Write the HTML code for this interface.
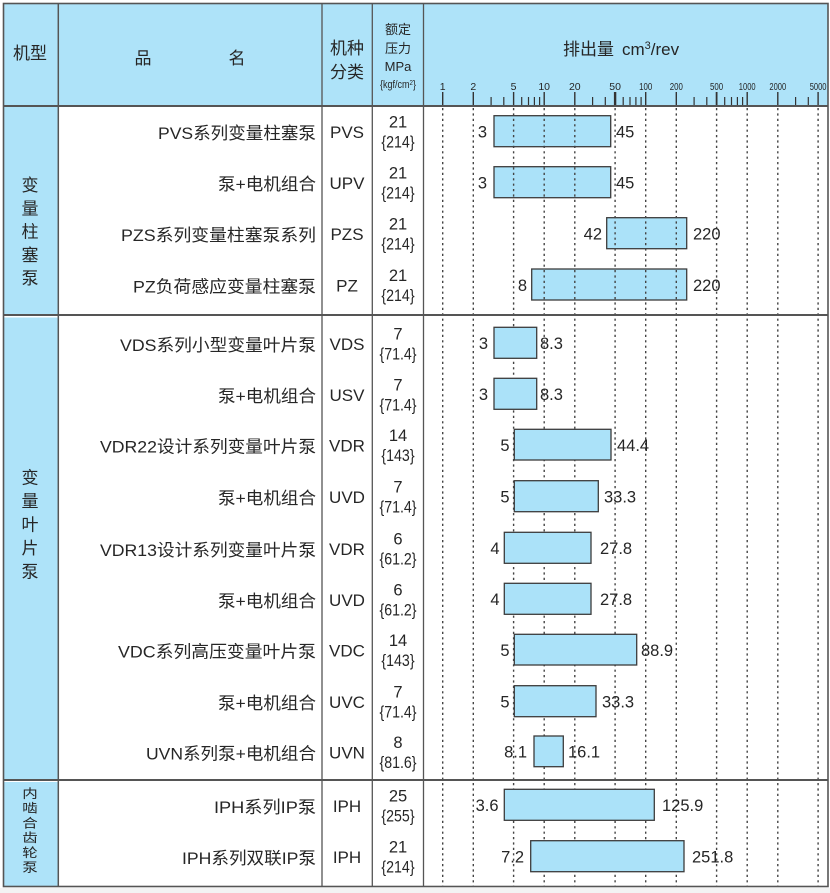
<!DOCTYPE html>
<html><head><meta charset="utf-8"><style>
html,body{margin:0;padding:0;background:#fff;}
svg{display:block;}
text{font-family:"Liberation Sans","Noto Sans CJK SC",sans-serif;fill:#262626;}
</style></head><body>
<svg width="830" height="893" viewBox="0 0 830 893" xmlns="http://www.w3.org/2000/svg">
<rect x="0" y="0" width="830" height="893" fill="#fff"/>
<rect x="0" y="888" width="830" height="5" fill="#f3f3f3"/>
<!-- header fill -->
<rect x="3" y="3" width="825" height="103" fill="#aee3f9"/>
<!-- left column fills -->
<rect x="4" y="107" width="54" height="207" fill="#aee3f9"/>
<rect x="4" y="317.5" width="54" height="461.5" fill="#aee3f9"/>
<rect x="4" y="782" width="54" height="104" fill="#aee3f9"/>

<!-- section 1 bars (gridlines drawn over) -->
<g fill="#abe2f9" stroke="#3c3c3c" stroke-width="1.3">
<rect x="494" y="115.7" width="116.7" height="31"/>
<rect x="494" y="166.7" width="116.7" height="31"/>
<rect x="606.7" y="217.7" width="80" height="31"/>
<rect x="531.7" y="269" width="155" height="31"/>
</g>

<!-- gridlines -->
<g stroke="#444" stroke-width="1.4" stroke-dasharray="2.2 3.2">
<line x1="442.7" y1="108" x2="442.7" y2="886"/>
<line x1="473.3" y1="108" x2="473.3" y2="886"/>
<line x1="513.6" y1="108" x2="513.6" y2="886"/>
<line x1="544.2" y1="108" x2="544.2" y2="886"/>
<line x1="574.8" y1="108" x2="574.8" y2="886"/>
<line x1="615.1" y1="108" x2="615.1" y2="886"/>
<line x1="645.7" y1="108" x2="645.7" y2="886"/>
<line x1="676.3" y1="108" x2="676.3" y2="886"/>
<line x1="716.6" y1="108" x2="716.6" y2="886"/>
<line x1="747.2" y1="108" x2="747.2" y2="886"/>
<line x1="777.8" y1="108" x2="777.8" y2="886"/>
<line x1="818.1" y1="108" x2="818.1" y2="886"/>
</g>

<!-- section 2 & 3 bars -->
<g fill="#abe2f9" stroke="#3c3c3c" stroke-width="1.3">
<rect x="494" y="327.3" width="42.7" height="31"/>
<rect x="494" y="378.3" width="42.7" height="31"/>
<rect x="514.3" y="429.3" width="96.7" height="30.7"/>
<rect x="514.3" y="480.7" width="84" height="31"/>
<rect x="504.3" y="532.3" width="86.7" height="31"/>
<rect x="504.3" y="583.3" width="86.7" height="31"/>
<rect x="514.3" y="634.3" width="122.4" height="30.7"/>
<rect x="514.3" y="685.7" width="81.7" height="31"/>
<rect x="534" y="736" width="29.3" height="30.7"/>
<rect x="504.3" y="789.3" width="150" height="31"/>
<rect x="530.7" y="840.7" width="153.3" height="31"/>
</g>

<!-- axis ticks -->
<g stroke="#333" stroke-width="1.4">
<line x1="442.7" y1="92" x2="442.7" y2="106"/>
<line x1="473.3" y1="92" x2="473.3" y2="106"/>
<line x1="513.6" y1="92" x2="513.6" y2="106"/>
<line x1="544.2" y1="92" x2="544.2" y2="106"/>
<line x1="574.8" y1="92" x2="574.8" y2="106"/>
<line x1="615.1" y1="92" x2="615.1" y2="106" stroke-width="2.4"/>
<line x1="645.7" y1="92" x2="645.7" y2="106"/>
<line x1="676.3" y1="92" x2="676.3" y2="106"/>
<line x1="716.6" y1="92" x2="716.6" y2="106" stroke-width="1.8"/>
<line x1="747.2" y1="92" x2="747.2" y2="106"/>
<line x1="777.8" y1="92" x2="777.8" y2="106"/>
<line x1="818.1" y1="92" x2="818.1" y2="106"/>
</g>
<g stroke="#333" stroke-width="1.2">
<line x1="491.1" y1="97" x2="491.1" y2="106"/>
<line x1="503.8" y1="97" x2="503.8" y2="106"/>
<line x1="521.7" y1="97" x2="521.7" y2="106"/>
<line x1="528.5" y1="97" x2="528.5" y2="106"/>
<line x1="534.4" y1="97" x2="534.4" y2="106"/>
<line x1="539.6" y1="97" x2="539.6" y2="106"/>
<line x1="592.6" y1="97" x2="592.6" y2="106"/>
<line x1="605.3" y1="97" x2="605.3" y2="106"/>
<line x1="623.2" y1="97" x2="623.2" y2="106"/>
<line x1="630.0" y1="97" x2="630.0" y2="106"/>
<line x1="635.9" y1="97" x2="635.9" y2="106"/>
<line x1="641.1" y1="97" x2="641.1" y2="106"/>
<line x1="694.1" y1="97" x2="694.1" y2="106"/>
<line x1="706.8" y1="97" x2="706.8" y2="106"/>
<line x1="724.7" y1="97" x2="724.7" y2="106"/>
<line x1="731.5" y1="97" x2="731.5" y2="106"/>
<line x1="737.4" y1="97" x2="737.4" y2="106"/>
<line x1="742.6" y1="97" x2="742.6" y2="106"/>
<line x1="795.6" y1="97" x2="795.6" y2="106"/>
<line x1="808.3" y1="97" x2="808.3" y2="106"/>
</g>
<!-- tick labels -->
<g font-size="10.5" text-anchor="middle">
<text x="442.7" y="90">1</text>
<text x="473.3" y="90">2</text>
<text x="513.6" y="90">5</text>
<text x="544.2" y="90">10</text>
<text x="574.8" y="90">20</text>
<text x="615.1" y="90">50</text>
<text transform="translate(645.7,90) scale(0.75,1)">100</text>
<text transform="translate(676.3,90) scale(0.75,1)">200</text>
<text transform="translate(716.6,90) scale(0.75,1)">500</text>
<text transform="translate(747.2,90) scale(0.72,1)">1000</text>
<text transform="translate(777.8,90) scale(0.72,1)">2000</text>
<text transform="translate(818.1,90) scale(0.72,1)">5000</text>
</g>

<!-- table lines -->
<g stroke="#555" fill="none">
<rect x="3.5" y="3.5" width="824.5" height="883" stroke-width="1.6"/>
<line x1="58.3" y1="3" x2="58.3" y2="887" stroke-width="1.5"/>
<line x1="322" y1="3" x2="322" y2="887" stroke-width="1.3"/>
<line x1="372.3" y1="3" x2="372.3" y2="887" stroke-width="1.3"/>
<line x1="423.5" y1="3" x2="423.5" y2="887" stroke-width="1.3"/>
<line x1="3" y1="106" x2="828" y2="106" stroke-width="2"/>
<line x1="3" y1="315" x2="828" y2="315" stroke-width="2"/>
<line x1="3" y1="780" x2="828" y2="780" stroke-width="2"/>
</g>

<!-- header text -->
<g font-size="17" text-anchor="middle">
<text x="30" y="59">机型</text>
<text x="143" y="64">品</text>
<text x="237" y="64">名</text>
<text x="347" y="54">机种</text>
<text x="347" y="78">分类</text>
</g>
<text x="563" y="55" font-size="17">排出量</text>
<text x="622" y="55" font-size="17">cm<tspan font-size="11" dy="-6">3</tspan><tspan dy="6">/rev</tspan></text>
<g font-size="13" text-anchor="middle">
<text x="398" y="34">额定</text>
<text x="398" y="53">压力</text>
<text x="398" y="71">MPa</text>
<text transform="translate(398,88) scale(0.82,1)" font-size="11">{kgf/cm<tspan font-size="7.5" dy="-3">2</tspan><tspan dy="3">}</tspan></text>
</g>

<!-- left vertical labels -->
<g font-size="17" text-anchor="middle">
<text x="30" y="191">变</text>
<text x="30" y="214.3">量</text>
<text x="30" y="237.5">柱</text>
<text x="30" y="260.8">塞</text>
<text x="30" y="284">泵</text>
<text x="30" y="483.5">变</text>
<text x="30" y="507">量</text>
<text x="30" y="530.5">叶</text>
<text x="30" y="554">片</text>
<text x="30" y="577.5">泵</text>
</g>
<g font-size="15.5" text-anchor="middle">
<text transform="translate(30,798) scale(1,0.82)">内</text>
<text transform="translate(30,812.7) scale(1,0.82)">啮</text>
<text transform="translate(30,827.4) scale(1,0.82)">合</text>
<text transform="translate(30,842.1) scale(1,0.82)">齿</text>
<text transform="translate(30,856.8) scale(1,0.82)">轮</text>
<text transform="translate(30,871.5) scale(1,0.82)">泵</text>
</g>

<!-- names -->
<g font-size="17" text-anchor="end">
<text x="316" y="139" textLength="158" lengthAdjust="spacingAndGlyphs">PVS系列变量柱塞泵</text>
<text x="316" y="190" textLength="98" lengthAdjust="spacingAndGlyphs">泵+电机组合</text>
<text x="316" y="241" textLength="195" lengthAdjust="spacingAndGlyphs">PZS系列变量柱塞泵系列</text>
<text x="316" y="292.5" textLength="183" lengthAdjust="spacingAndGlyphs">PZ负荷感应变量柱塞泵</text>
<text x="316" y="350.8" textLength="196" lengthAdjust="spacingAndGlyphs">VDS系列小型变量叶片泵</text>
<text x="316" y="401.8" textLength="98" lengthAdjust="spacingAndGlyphs">泵+电机组合</text>
<text x="316" y="452.7" textLength="216" lengthAdjust="spacingAndGlyphs">VDR22设计系列变量叶片泵</text>
<text x="316" y="504.2" textLength="98" lengthAdjust="spacingAndGlyphs">泵+电机组合</text>
<text x="316" y="555.8" textLength="216" lengthAdjust="spacingAndGlyphs">VDR13设计系列变量叶片泵</text>
<text x="316" y="606.8" textLength="98" lengthAdjust="spacingAndGlyphs">泵+电机组合</text>
<text x="316" y="657.7" textLength="198" lengthAdjust="spacingAndGlyphs">VDC系列高压变量叶片泵</text>
<text x="316" y="709.2" textLength="98" lengthAdjust="spacingAndGlyphs">泵+电机组合</text>
<text x="316" y="759.3" textLength="170" lengthAdjust="spacingAndGlyphs">UVN系列泵+电机组合</text>
<text x="316" y="812.8" textLength="102" lengthAdjust="spacingAndGlyphs">IPH系列IP泵</text>
<text x="316" y="864.2" textLength="134" lengthAdjust="spacingAndGlyphs">IPH系列双联IP泵</text>
</g>

<!-- codes -->
<g font-size="17" text-anchor="middle">
<text x="347" y="138">PVS</text>
<text x="347" y="189">UPV</text>
<text x="347" y="240">PZS</text>
<text x="347" y="291.5">PZ</text>
<text x="347" y="349.8">VDS</text>
<text x="347" y="400.8">USV</text>
<text x="347" y="451.7">VDR</text>
<text x="347" y="503.2">UVD</text>
<text x="347" y="554.8">VDR</text>
<text x="347" y="605.8">UVD</text>
<text x="347" y="656.7">VDC</text>
<text x="347" y="708.2">UVC</text>
<text x="347" y="758.3">UVN</text>
<text x="347" y="811.8">IPH</text>
<text x="347" y="863.2">IPH</text>
</g>

<!-- pressure -->
<g font-size="16.5" text-anchor="middle">
<text x="398" y="127.5">21</text>
<text transform="translate(398,147.5) scale(0.86,1)">{214}</text>
<text x="398" y="178.5">21</text>
<text transform="translate(398,198.5) scale(0.86,1)">{214}</text>
<text x="398" y="229.5">21</text>
<text transform="translate(398,249.5) scale(0.86,1)">{214}</text>
<text x="398" y="281">21</text>
<text transform="translate(398,301) scale(0.86,1)">{214}</text>
<text x="398" y="339.5">7</text>
<text transform="translate(398,359.5) scale(0.86,1)">{71.4}</text>
<text x="398" y="390.5">7</text>
<text transform="translate(398,410.5) scale(0.86,1)">{71.4}</text>
<text x="398" y="441.2">14</text>
<text transform="translate(398,461.2) scale(0.86,1)">{143}</text>
<text x="398" y="492.7">7</text>
<text transform="translate(398,512.7) scale(0.86,1)">{71.4}</text>
<text x="398" y="544.3">6</text>
<text transform="translate(398,564.3) scale(0.86,1)">{61.2}</text>
<text x="398" y="595.3">6</text>
<text transform="translate(398,615.3) scale(0.86,1)">{61.2}</text>
<text x="398" y="646.2">14</text>
<text transform="translate(398,666.2) scale(0.86,1)">{143}</text>
<text x="398" y="697.7">7</text>
<text transform="translate(398,717.7) scale(0.86,1)">{71.4}</text>
<text x="398" y="747.8">8</text>
<text transform="translate(398,767.8) scale(0.86,1)">{81.6}</text>
<text x="398" y="801.3">25</text>
<text transform="translate(398,821.3) scale(0.86,1)">{255}</text>
<text x="398" y="852.7">21</text>
<text transform="translate(398,872.7) scale(0.86,1)">{214}</text>
</g>

<!-- bar labels left -->
<g font-size="16.5" text-anchor="end">
<text x="487" y="137.5">3</text>
<text x="487" y="188.5">3</text>
<text x="602" y="239.5">42</text>
<text x="527" y="291">8</text>
<text x="488" y="349">3</text>
<text x="488" y="400">3</text>
<text x="509.5" y="451">5</text>
<text x="509.5" y="502.5">5</text>
<text x="499.5" y="554">4</text>
<text x="499.5" y="605">4</text>
<text x="509.5" y="656">5</text>
<text x="509.5" y="707.5">5</text>
<text x="527" y="757.5">8.1</text>
<text x="498.5" y="811">3.6</text>
<text x="524" y="862.5">7.2</text>
</g>
<!-- bar labels right -->
<g font-size="16.5" text-anchor="start">
<text x="616" y="137.5">45</text>
<text x="616" y="188.5">45</text>
<text x="693" y="239.5">220</text>
<text x="693" y="291">220</text>
<text x="540" y="349">8.3</text>
<text x="540" y="400">8.3</text>
<text x="617" y="451">44.4</text>
<text x="604" y="502.5">33.3</text>
<text x="600" y="554">27.8</text>
<text x="600" y="605">27.8</text>
<text x="641" y="656">88.9</text>
<text x="602" y="707.5">33.3</text>
<text x="568" y="757.5">16.1</text>
<text x="662" y="811">125.9</text>
<text x="692" y="862.5">251.8</text>
</g>
</svg>
</body></html>
